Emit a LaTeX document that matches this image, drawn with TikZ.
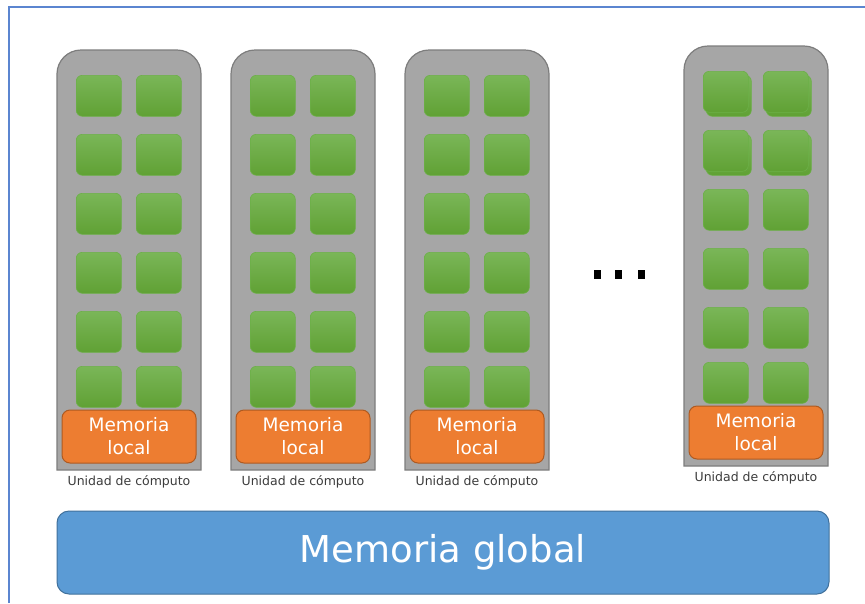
\documentclass[tikz,border=0pt]{standalone}
\usepackage{fontspec}
\setmainfont{DejaVu Sans}
\definecolor{frameblue}{RGB}{91,133,208}
\definecolor{bodygray}{RGB}{166,166,166}
\definecolor{bodyedge}{RGB}{125,125,125}
\definecolor{coretop}{RGB}{122,182,88}
\definecolor{corebot}{RGB}{96,161,52}
\definecolor{coreedge}{RGB}{108,176,72}
\definecolor{memorange}{RGB}{237,125,49}
\definecolor{memorangeedge}{RGB}{174,90,33}
\definecolor{globalblue}{RGB}{91,155,213}
\definecolor{globaledge}{RGB}{65,113,156}
\definecolor{labelgray}{RGB}{60,60,60}
\begin{document}
\begin{tikzpicture}[x=1pt,y=-1pt,
  unitbody/.style={fill=bodygray, draw=bodyedge, line width=1.2pt},
  core/.style={rectangle, rounded corners=6pt, minimum width=45pt, minimum height=41pt,
    inner sep=0pt, anchor=north west, top color=coretop, bottom color=corebot,
    draw=coreedge, line width=0.6pt},
  localmem/.style={rectangle, rounded corners=8pt, minimum width=134pt, minimum height=53pt,
    inner sep=0pt, fill=memorange, draw=memorangeedge, line width=1pt, text=white,
    align=center, font=\fontsize{18.5}{23}\selectfont},
  unitlabel/.style={inner sep=0pt, text=labelgray, font=\fontsize{12.5}{14}\selectfont},
  globalmem/.style={rectangle, rounded corners=12pt, minimum width=772pt, minimum height=83pt,
    inner sep=0pt, fill=globalblue, draw=globaledge, line width=1pt, text=white,
    font=\fontsize{37}{40}\selectfont},
  dotmark/.style={rectangle, fill=black, inner sep=0pt, minimum width=7pt, minimum height=9pt}
]
\useasboundingbox (0,0) rectangle (865,603);
\fill[white] (0,0) rectangle (865,603);

% page frame (only the top and left edges fall inside the view)
\draw[frameblue, line width=1.5pt] (9,603) -- (9,7) -- (865,7);

% compute units: body, 6x2 cores, local memory, caption
\foreach \c/\L/\T in {1/57/50, 2/231/50, 3/405/50, 4/684/46} {
  \pgfmathsetmacro\R{\L+144}
  \pgfmathsetmacro\B{\T+420}
  \draw[unitbody] (\L,\B) [rounded corners=24pt] -- (\L,\T) -- (\R,\T) [sharp corners] -- (\R,\B) -- cycle;
  \foreach \r/\dy in {1/25, 2/84, 3/143, 4/202, 5/261, 6/316} {
    \ifnum\c=4 \ifnum\r<3
      \node[core] (g\c-\r-a) at (\L+22,\T+\dy+4) {};
      \node[core] (g\c-\r-b) at (\L+82,\T+\dy+4) {};
    \fi\fi
    \node[core] (c\c-\r-a) at (\L+19,\T+\dy) {};
    \node[core] (c\c-\r-b) at (\L+79,\T+\dy) {};
  }
  \node[localmem] (lm\c) at (\L+72,\T+386.5) {Memoria\\local};
  \node[unitlabel] (ul\c) at (\L+72,\B+12) {Unidad de cómputo};
}

% ellipsis between the third and the last unit
\node[dotmark] (d1) at (597.5,274.5) {};
\node[dotmark] (d2) at (618.5,274.5) {};
\node[dotmark] (d3) at (641.5,274.5) {};

% global memory bar
\node[globalmem] (gm) at (443,552.5) {\raisebox{-2pt}{Memoria global}};
\end{tikzpicture}
\end{document}
